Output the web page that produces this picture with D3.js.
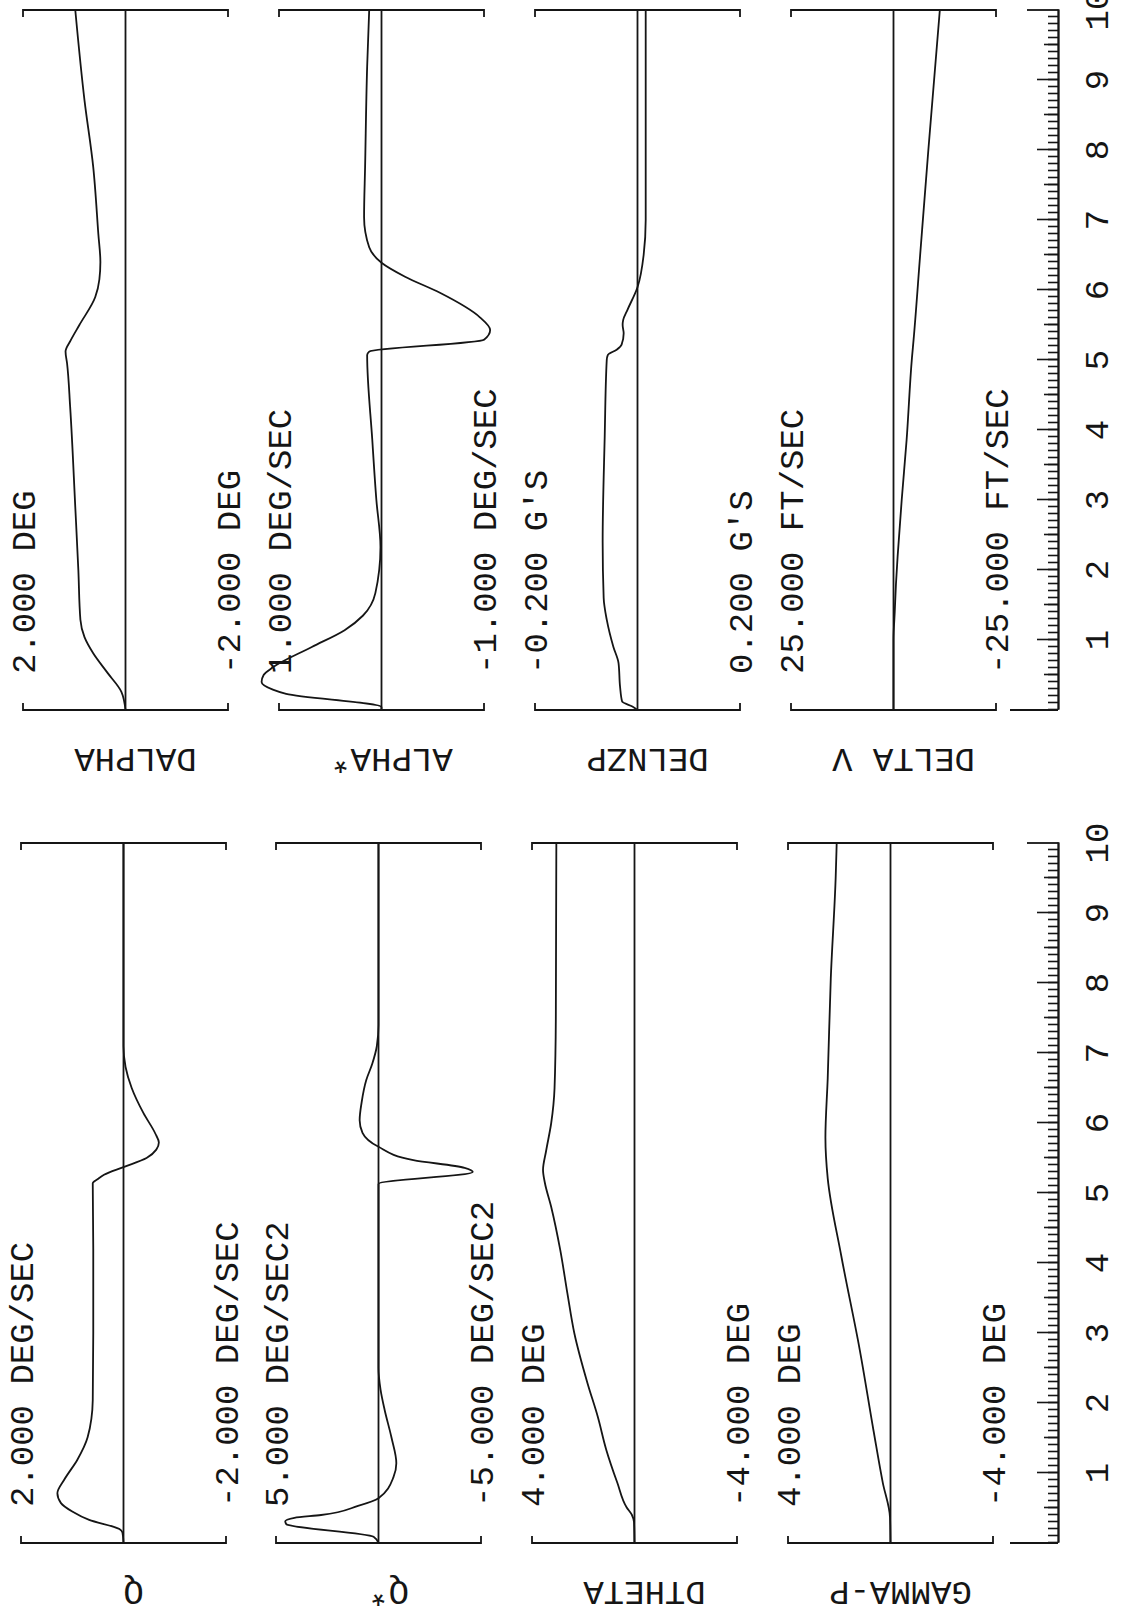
<!DOCTYPE html>
<html>
<head>
<meta charset="utf-8">
<script src="https://cdn.jsdelivr.net/npm/d3@7"></script>
<style>
html, body { margin: 0; padding: 0; background: #fff; }
svg { display: block; }
text { font-family: "Liberation Mono", "DejaVu Sans Mono", monospace; fill: #151515; }
</style>
</head>
<body>
<div id="chart"></div>
<script>
// time history plots: [time (sec), value]
var qData = [[0,0],[0.15,0.02],[0.2,0.08],[0.33,0.67],[0.45,1.0],[0.57,1.22],[0.71,1.29],[0.9,1.16],[1.19,0.9],[1.51,0.7],[2.04,0.6],[3,0.59],[4.2,0.59],[5.14,0.6],[5.2,0.5],[5.26,0.38],[5.37,0],[5.5,-0.45],[5.62,-0.64],[5.72,-0.69],[5.85,-0.62],[6.14,-0.39],[6.5,-0.16],[6.8,-0.04],[7.1,0],[10,0]];
var qDotData = [[0,0],[0.09,0.24],[0.27,4.5],[0.31,4.55],[0.36,4.1],[0.4,2.8],[0.53,1.0],[0.64,0],[0.94,-0.73],[1.14,-0.87],[1.51,-0.63],[1.9,-0.3],[2.19,-0.1],[2.5,0],[5.13,0],[5.3,-4.6],[5.36,-4.2],[5.47,-1.7],[5.66,0],[5.86,0.78],[6.04,0.92],[6.3,0.82],[6.61,0.6],[6.85,0.3],[7.1,0.08],[7.4,0],[10,0]];
var dthetaData = [[0,0],[0.3,0.02],[0.4,0.1],[0.51,0.31],[0.86,0.67],[1.33,1.1],[1.8,1.43],[2.29,1.84],[3.0,2.35],[3.57,2.62],[4.19,2.9],[4.8,3.25],[5.15,3.5],[5.33,3.57],[5.6,3.45],[6.0,3.25],[6.5,3.12],[7.5,3.07],[10,3.05]];
var gammaPData = [[0,0],[0.37,0.02],[0.86,0.3],[1.6,0.66],[2.76,1.2],[4.1,1.92],[5.21,2.45],[5.79,2.54],[6.64,2.45],[8.07,2.33],[9.5,2.14],[10,2.1]];
var dalphaData = [[0,0],[0.26,0.08],[0.53,0.35],[0.81,0.63],[1.04,0.8],[1.29,0.88],[2.0,0.92],[2.9,0.98],[4.33,1.08],[4.95,1.14],[5.12,1.17],[5.28,1.07],[5.5,0.9],[5.9,0.59],[6.15,0.51],[6.4,0.49],[6.8,0.53],[7.76,0.63],[8.71,0.8],[10,0.98]];
var alphaDotData = [[0,0],[0.04,0],[0.23,0.93],[0.29,1.06],[0.4,1.17],[0.5,1.15],[0.61,1.06],[0.9,0.68],[1.14,0.36],[1.35,0.18],[1.67,0.06],[2.33,0.01],[3.0,0.05],[3.86,0.09],[5.07,0.14],[5.12,0.12],[5.29,-1.0],[5.43,-1.06],[5.61,-0.96],[5.96,-0.57],[6.19,-0.23],[6.39,0],[6.61,0.12],[7.04,0.17],[7.76,0.16],[9.19,0.14],[10,0.12]];
var delnzpData = [[0,0],[0.05,-0.01],[0.12,-0.03],[0.33,-0.034],[0.67,-0.037],[0.9,-0.047],[1.29,-0.06],[1.6,-0.066],[2.4,-0.068],[3.9,-0.064],[5.0,-0.06],[5.07,-0.058],[5.15,-0.04],[5.22,-0.031],[5.38,-0.027],[5.5,-0.029],[5.57,-0.028],[5.71,-0.02],[6.04,0],[6.5,0.012],[7.0,0.016],[10,0.016]];
var deltaVData = [[0,0],[1.0,0],[1.4,-0.3],[1.8,-0.6],[2.19,-1.0],[3.0,-2.0],[3.86,-3.2],[5.03,-4.5],[5.29,-4.9],[6.5,-6.5],[8,-8.5],[10,-11.3]];

// panel names, scale limits and scale labels (first four = left sheet, last four = right sheet)
var panelNames = ["Q", "Q*", "DTHETA", "GAMMA-P", "DALPHA", "ALPHA*", "DELNZP", "DELTA V"];
var topValues = [2, 5, 4, 4, 2, 1, -0.2, 25];
var bottomValues = [-2, -5, -4, -4, -2, -1, 0.2, -25];
var topLabels = ["2.000 DEG/SEC", "5.000 DEG/SEC2", "4.000 DEG", "4.000 DEG",
  "2.000 DEG", "1.000 DEG/SEC", "-0.200 G'S", "25.000 FT/SEC"];
var bottomLabels = ["-2.000 DEG/SEC", "-5.000 DEG/SEC2", "-4.000 DEG", "-4.000 DEG",
  "-2.000 DEG", "-1.000 DEG/SEC", "0.200 G'S", "-25.000 FT/SEC"];
var seriesList = [qData, qDotData, dthetaData, gammaPData, dalphaData, alphaDotData, delnzpData, deltaVData];
var timeTickLabels = ["1", "2", "3", "4", "5", "6", "7", "8", "9", "10"];

var svgWidth = 1123;
var svgHeight = 1611;

// the sheet is plotted sideways: build it with time running left-to-right, then turn it
var spanT = 700;            // pixels for 10 seconds
var blocks = [
  { t0: 68, panelTop: [21, 276, 532, 788] },   // left sheet (Q ... GAMMA-P)
  { t0: 901, panelTop: [23, 279, 535, 791] }   // right sheet (DALPHA ... DELTA V)
];
var panelHeight = 205;
var axisY = 1058;
var ink = "#151515";

var svg = d3.select("#chart")
  .append("svg")
  .attr("width", svgWidth)
  .attr("height", svgHeight);

svg.append("rect")
  .attr("width", svgWidth)
  .attr("height", svgHeight)
  .attr("fill", "#fff");

var sheet = svg.append("g")
  .attr("transform", `translate(0, ${svgHeight}) rotate(-90)`);

blocks.forEach(function(block, b) {
  var xScale = d3.scaleLinear()
    .domain([0, 10])
    .range([block.t0, block.t0 + spanT]);

  // time axis with 0.1 sec ticks
  var axisG = sheet.append("g")
    .attr("transform", `translate(0, ${axisY})`);

  axisG.append("g")
    .call(d3.axisTop(xScale).tickValues(d3.range(0, 100).map(d => d / 10)).tickSize(10).tickSizeOuter(0).tickFormat(""));
  axisG.append("g")
    .call(d3.axisTop(xScale).tickValues(d3.range(0.5, 10, 1)).tickSize(14).tickSizeOuter(0).tickFormat(""));
  axisG.append("g")
    .call(d3.axisTop(xScale).tickValues(d3.range(1, 10)).tickSize(21).tickSizeOuter(0).tickFormat(""));
  axisG.selectAll("path, line")
    .attr("stroke", ink)
    .attr("stroke-width", 1.6);

  // end marks of the time axis
  axisG.append("line")
    .attr("x1", xScale(0)).attr("x2", xScale(0))
    .attr("y1", 0).attr("y2", -48)
    .attr("stroke", ink).attr("stroke-width", 1.8);
  axisG.append("line")
    .attr("x1", xScale(10)).attr("x2", xScale(10))
    .attr("y1", 0).attr("y2", -31)
    .attr("stroke", ink).attr("stroke-width", 1.8);

  axisG.selectAll(".tlabel")
    .data(timeTickLabels)
    .enter()
    .append("text")
    .attr("class", "tlabel")
    .attr("x", (d, i) => xScale(i + 1))
    .attr("y", 50)
    .attr("text-anchor", "middle")
    .attr("font-size", "34px")
    .text(d => d);

  // four panels per sheet
  block.panelTop.forEach(function(top, p) {
    var k = b * 4 + p;
    var yScale = d3.scaleLinear()
      .domain([bottomValues[k], topValues[k]])
      .range([top + panelHeight, top]);
    var yTop = yScale(topValues[k]);
    var yBot = yScale(bottomValues[k]);
    var pg = sheet.append("g");

    // zero reference line
    pg.append("line")
      .attr("x1", xScale(0)).attr("x2", xScale(10))
      .attr("y1", yScale(0)).attr("y2", yScale(0))
      .attr("stroke", ink).attr("stroke-width", 1.8);

    // bracket ends at t = 0 and t = 10
    pg.append("path")
      .attr("d", `M${xScale(0) + 7},${yTop}H${xScale(0)}V${yBot}H${xScale(0) + 7}`)
      .attr("fill", "none").attr("stroke", ink).attr("stroke-width", 1.8);
    pg.append("path")
      .attr("d", `M${xScale(10) - 7},${yTop}H${xScale(10)}V${yBot}H${xScale(10) - 7}`)
      .attr("fill", "none").attr("stroke", ink).attr("stroke-width", 1.8);

    // the trace
    var line = d3.line()
      .x(d => xScale(d[0]))
      .y(d => yScale(d[1]))
      .curve(d3.curveMonotoneX);
    pg.append("path")
      .datum(seriesList[k])
      .attr("d", line)
      .attr("fill", "none")
      .attr("stroke", ink)
      .attr("stroke-width", 1.8)
      .attr("stroke-linejoin", "round");

    // scale labels sit on the panel limits
    pg.append("text")
      .attr("x", xScale(0) + 36)
      .attr("y", yTop + 12)
      .attr("font-size", "34px")
      .text(topLabels[k]);
    pg.append("text")
      .attr("x", xScale(0) + 36)
      .attr("y", yBot + 12)
      .attr("font-size", "34px")
      .text(bottomLabels[k]);

    // variable name, written along the value direction
    var cy = yScale(0) + 10;
    pg.append("text")
      .attr("transform", `translate(${xScale(0) - 48}, ${cy}) rotate(-90)`)
      .attr("text-anchor", "middle")
      .attr("dominant-baseline", "central")
      .attr("font-size", "34px")
      .text(panelNames[k]);
  });
});
</script>
</body>
</html>
